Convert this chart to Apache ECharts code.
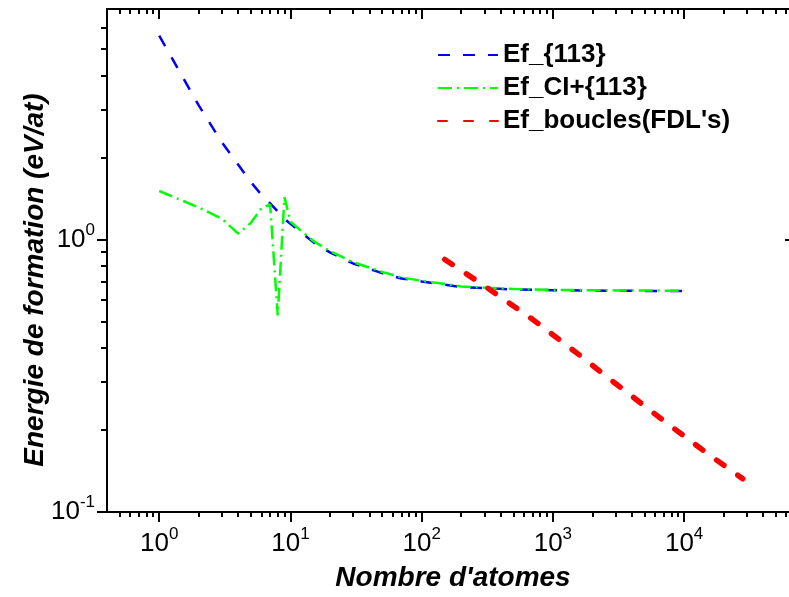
<!DOCTYPE html>
<html><head><meta charset="utf-8">
<script src="https://cdn.jsdelivr.net/npm/echarts@6/dist/echarts.min.js"></script>
<style>html,body{margin:0;padding:0;background:#fff}#c{width:789px;height:597px}</style>
</head><body><div id="c"></div>
<script>
const seriesNames = ['Ef_{113}', 'Ef_CI+{113}', "Ef_boucles(FDL's)"];
const blueN = [1,2,3,4,5,6,7,8,9,10,15,20,30,50,70,100,200,500,1000,3000,10000];
const blueE = [5.59,3.10,2.27,1.88,1.62,1.46,1.356,1.267,1.19,1.14,0.975,0.896,0.816,0.752,0.719,0.701,0.669,0.655,0.651,0.648,0.646];
const greenN = [1,2,3,4,5,6,7,8,9,10,15,20,30,50,70,100,200,500,1000,3000,10000];
const greenE = [1.505,1.31,1.19,1.05,1.15,1.30,1.345,0.526,1.43,1.16,0.985,0.905,0.825,0.76,0.725,0.705,0.672,0.658,0.653,0.65,0.648];
const redN = [150,300,700,1500,3000,7000,15000,28000];
const redE = [0.844,0.676,0.509,0.385,0.296,0.216,0.164,0.1324];
const xMajorTicks = [1,10,100,1000,10000];
const xMinorTicks = [0.5,0.6,0.7,0.8,0.9,2,3,4,5,6,7,8,9,20,30,40,50,60,70,80,90,200,300,400,500,600,700,800,900,2000,3000,4000,5000,6000,7000,8000,9000,20000,30000,40000,50000,60000];
const yMajorTicks = [0.1,1];
const yMinorTicks = [0.2,0.3,0.4,0.5,0.6,0.7,0.8,0.9,2,3,4,5,6];
const xTitle = "Nombre d'atomes";
const yTitle = 'Energie de formation (eV/at)';

const FF = '"Liberation Sans", Arial, sans-serif';
const X_MIN = 0.4, X_MAX = 70000, Y_MIN = 0.1, Y_MAX = 7;
function pairs(a, b) { return a.map((v, i) => [v, b[i]]); }
function sup(v) { const e = Math.round(Math.log10(v)); return '{b|10}{s|' + e + '}'; }
const rich = {
  b: { fontSize: 26, fontFamily: FF, color: '#000', lineHeight: 36 },
  s: { fontSize: 17, fontFamily: FF, color: '#000', lineHeight: 17, verticalAlign: 'top' }
};
const lineS = { color: '#000', width: 2 };

function xAx(pos, ticks, len, inside, labels) {
  return {
    type: 'log', logBase: 10, min: X_MIN, max: X_MAX, position: pos, gridIndex: 0,
    axisLine: { show: true, lineStyle: lineS },
    axisTick: { show: true, inside: inside, length: len, customValues: ticks, lineStyle: { color: '#000', width: 2 } },
    axisLabel: labels ? { show: true, customValues: xMajorTicks, formatter: sup, rich: rich, margin: 14 } : { show: false },
    splitLine: { show: false }, minorTick: { show: false }
  };
}
function yAx(pos, ticks, len, inside, labels) {
  return {
    type: 'log', logBase: 10, min: Y_MIN, max: Y_MAX, position: pos, gridIndex: 0,
    axisLine: { show: true, lineStyle: lineS },
    axisTick: { show: true, inside: inside, length: len, customValues: ticks, lineStyle: { color: '#000', width: 2 } },
    axisLabel: labels ? { show: true, customValues: yMajorTicks, formatter: sup, rich: rich, margin: 12 } : { show: false },
    splitLine: { show: false }, minorTick: { show: false }
  };
}

const chart = echarts.init(document.getElementById('c'), null, { renderer: 'canvas' });
chart.setOption({
  animation: false,
  backgroundColor: '#fff',
  grid: { left: 107, top: 9, width: 688, height: 503, containLabel: false, outerBoundsMode: 'none' },
  xAxis: [
    xAx('bottom', xMajorTicks, 10, false, true),
    xAx('bottom', xMinorTicks, 5, false, false),
    xAx('top', xMajorTicks, 10, true, false),
    xAx('top', xMinorTicks, 5, true, false)
  ],
  yAxis: [
    yAx('left', yMajorTicks, 10, false, true),
    yAx('left', yMinorTicks, 6, false, false),
    yAx('right', yMajorTicks, 10, true, false),
    yAx('right', yMinorTicks, 5, true, false)
  ],
  legend: {
    orient: 'vertical', left: 432, top: 37, itemWidth: 60, itemHeight: 14, itemGap: 7,
    itemStyle: { opacity: 0 },
    textStyle: { fontSize: 26, fontWeight: 'bold', fontFamily: FF, color: '#000', lineHeight: 26 },
    data: seriesNames
  },
  series: [
    { name: seriesNames[0], type: 'line', xAxisIndex: 0, yAxisIndex: 0, symbol: 'none', data: pairs(blueN, blueE),
      lineStyle: { color: '#0000ff', width: 2.5, type: [12, 13] }, itemStyle: { color: '#0000ff' }, z: 3 },
    { name: seriesNames[1], type: 'line', xAxisIndex: 0, yAxisIndex: 0, symbol: 'none', data: pairs(greenN, greenE),
      lineStyle: { color: '#00ff00', width: 2.5, type: [14, 5, 2, 5] }, itemStyle: { color: '#00ff00' }, z: 4 },
    { name: seriesNames[2], type: 'line', xAxisIndex: 0, yAxisIndex: 0, symbol: 'none', data: pairs(redN, redE),
      lineStyle: { color: '#ff0000', width: 5.5, type: [9, 17], cap: 'round' }, itemStyle: { color: '#ff0000' }, z: 5 }
  ],
  graphic: [
    { type: 'text', x: 453, y: 578, style: { text: xTitle, font: 'italic bold 28px ' + FF, textAlign: 'center', textVerticalAlign: 'middle', fill: '#000' } },
    { type: 'text', x: 35, y: 280, rotation: Math.PI / 2, style: { text: yTitle, font: 'italic bold 28px ' + FF, textAlign: 'center', textVerticalAlign: 'middle', fill: '#000' } }
  ]
});
</script></body></html>
